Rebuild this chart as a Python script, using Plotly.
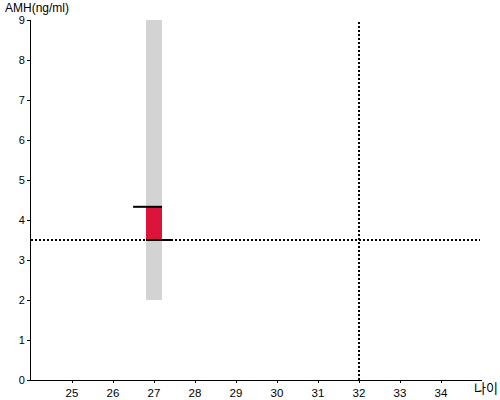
import plotly.graph_objects as go

# Data
age = [27]
range_low = [2]
range_high = [9]
amh_value = [4.33]
reference_amh = [3.5]
reference_age = [32]
x_ticks = [25, 26, 27, 28, 29, 30, 31, 32, 33, 34]
y_ticks = [0, 1, 2, 3, 4, 5, 6, 7, 8, 9]

BAR_W = 0.39
fig = go.Figure()

# grey normal range bar
fig.add_trace(go.Bar(x=age, y=[range_high[0] - range_low[0]], base=range_low,
                     width=BAR_W, marker=dict(color="#d3d3d3", line=dict(width=0)),
                     hoverinfo="skip"))
# red bar from reference to value
fig.add_trace(go.Bar(x=age, y=[amh_value[0] - reference_amh[0]], base=reference_amh,
                     width=BAR_W, marker=dict(color="#dc143c", line=dict(width=0)),
                     hoverinfo="skip"))

# horizontal reference dotted line
fig.add_trace(go.Scatter(x=[24, 34.95], y=[reference_amh[0]] * 2, mode="lines",
                         line=dict(color="black", width=2, dash="2px,2px"), hoverinfo="skip"))
# vertical reference dotted line
fig.add_trace(go.Scatter(x=[reference_age[0]] * 2, y=[0, 9], mode="lines",
                         line=dict(color="black", width=2, dash="2px,2px"), hoverinfo="skip"))
# value marker line
fig.add_trace(go.Scatter(x=[age[0] - 0.51, age[0] + BAR_W / 2], y=[amh_value[0]] * 2, mode="lines",
                         line=dict(color="black", width=2), hoverinfo="skip"))
# reference marker line
fig.add_trace(go.Scatter(x=[age[0] - BAR_W / 2, age[0] + 0.46], y=[reference_amh[0]] * 2, mode="lines",
                         line=dict(color="black", width=2), hoverinfo="skip"))

fig.update_layout(
    width=500, height=400,
    margin=dict(l=31, r=18, t=20, b=20, autoexpand=False),
    plot_bgcolor="white", paper_bgcolor="white",
    showlegend=False, barmode="overlay",
    font=dict(family="Liberation Sans, Arial, sans-serif", size=12, color="black"),
    xaxis=dict(range=[24, 35], tickvals=x_ticks, showgrid=False, zeroline=False,
               showline=True, linecolor="black", linewidth=1, automargin=False,
               ticks="outside", ticklen=2, tickcolor="black", tickfont=dict(size=11.5)),
    yaxis=dict(range=[0, 9], tickvals=y_ticks, showgrid=False, zeroline=False,
               showline=True, linecolor="black", linewidth=1, automargin=False,
               ticks="outside", ticklen=3, tickcolor="black", tickfont=dict(size=11)),
    annotations=[
        dict(text="AMH(ng/ml)", x=0, y=1, xref="paper", yref="paper",
             xshift=-27, yshift=20, xanchor="left", yanchor="top", showarrow=False,
             borderpad=0, font=dict(size=12)),
        dict(text="나이", x=1, y=0, xref="paper", yref="paper",
             xshift=18, yshift=-19, xanchor="right", yanchor="bottom", showarrow=False,
             font=dict(size=13, family="Noto Sans CJK KR")),
    ],
)

fig.write_html("out.html", config={"displayModeBar": False},
               post_script="document.body.style.margin='0';document.body.style.overflow='hidden';")
